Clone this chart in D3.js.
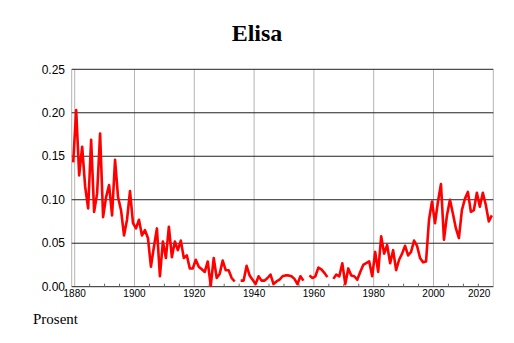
<!DOCTYPE html>
<html>
<head>
<meta charset="utf-8">
<script src="https://cdn.jsdelivr.net/npm/d3@7"></script>
<style>
  body { margin: 0; background: #fff; }
  svg { display: block; }
</style>
</head>
<body>
<div id="chart"></div>
<script>
// Share of name "Elisa", yearly (null = no data that year)
const firstYear = 1879;
const values = [
  0.143, 0.203, 0.128, 0.161, 0.115, 0.090, 0.169, 0.086, 0.107, 0.176, // 1879-1888
  0.080, 0.103, 0.117, 0.082, 0.146, 0.103, 0.088, 0.059, 0.077, 0.110, // 1889-1898
  0.073, 0.067, 0.077, 0.059, 0.065, 0.056, 0.023, 0.046, 0.067, 0.012, // 1899-1908
  0.052, 0.033, 0.069, 0.034, 0.052, 0.042, 0.053, 0.033, 0.036, 0.021, // 1909-1918
  0.021, 0.031, 0.023, 0.020, 0.017, 0.029, 0.001, 0.033, 0.010, 0.015, // 1919-1928
  0.030, 0.019, 0.019, 0.010, 0.006, null,  0.007, 0.007, 0.024, 0.013, // 1929-1938
  0.008, 0.003, 0.012, 0.007, 0.007, 0.010, 0.014, 0.003, 0.006, 0.008, // 1939-1948
  0.012, 0.013, 0.013, 0.012, 0.009, 0.003, 0.012, 0.007, null,  0.013, // 1949-1958
  0.010, 0.012, 0.022, 0.020, 0.016, 0.011, null,  0.009, 0.014, 0.012, // 1959-1968
  0.027, 0.003, 0.021, 0.013, 0.012, 0.008, 0.017, 0.025, 0.027, 0.029, // 1969-1978
  0.012, 0.040, 0.017, 0.058, 0.038, 0.048, 0.027, 0.042, 0.019, 0.031, // 1979-1988
  0.038, 0.047, 0.036, 0.040, 0.053, 0.047, 0.033, 0.028, 0.029, 0.077, // 1989-1998
  0.098, 0.073, 0.098, 0.118, 0.054, 0.082, 0.100, 0.084, 0.067, 0.056, // 1999-2008
  0.088, 0.101, 0.109, 0.086, 0.088, 0.108, 0.092, 0.108, 0.094, 0.075, // 2009-2018
  0.082                                                                 // 2019
];
const years = d3.range(firstYear, firstYear + values.length);

const yTicks = [0, 0.05, 0.10, 0.15, 0.20, 0.25];
const xTicks = [1880, 1900, 1920, 1940, 1960, 1980, 2000, 2020];
const minorTicks = d3.range(1880, 2020, 5);

const width = 514;
const height = 343;
const margin = { top: 69.3, right: 20.7, bottom: 56.3, left: 71.7 };

const svg = d3.select("#chart")
  .append("svg")
  .attr("width", width)
  .attr("height", height);

const x = d3.scaleLinear()
  .domain([1879, 2020])
  .range([margin.left, width - margin.right]);

const y = d3.scaleLinear()
  .domain([0, 0.25])
  .range([height - margin.bottom, margin.top]);

// title
svg.append("text")
  .attr("x", 257)
  .attr("y", 41)
  .attr("text-anchor", "middle")
  .style("font-family", "'Liberation Serif', 'Times New Roman', serif")
  .style("font-weight", "bold")
  .style("font-size", "24px")
  .text("Elisa");

// vertical grid (grey), including frame edges
const vLines = [1879].concat(xTicks);
svg.append("g")
  .selectAll("line")
  .data(vLines)
  .enter()
  .append("line")
  .attr("x1", d => x(d))
  .attr("x2", d => x(d))
  .attr("y1", y(0.25))
  .attr("y2", y(0))
  .attr("stroke", "#b4b4b4")
  .attr("stroke-width", 1);

// horizontal grid (black)
svg.append("g")
  .selectAll("line")
  .data(yTicks)
  .enter()
  .append("line")
  .attr("x1", x(1879))
  .attr("x2", x(2020))
  .attr("y1", d => y(d))
  .attr("y2", d => y(d))
  .attr("stroke", "#222")
  .attr("stroke-width", 1);

// minor ticks on x axis
svg.append("g")
  .selectAll("line")
  .data(minorTicks.filter(d => d % 20 !== 0))
  .enter()
  .append("line")
  .attr("x1", d => x(d))
  .attr("x2", d => x(d))
  .attr("y1", y(0))
  .attr("y2", y(0) - 3)
  .attr("stroke", "#666")
  .attr("stroke-width", 1);

// y labels
svg.append("g")
  .selectAll("text")
  .data(yTicks)
  .enter()
  .append("text")
  .attr("x", 65)
  .attr("y", d => y(d))
  .attr("dy", "0.35em")
  .attr("text-anchor", "end")
  .style("font-family", "'Liberation Sans', Arial, sans-serif")
  .style("font-size", "12px")
  .text(d => d3.format(".2f")(d));

// x labels
svg.append("g")
  .selectAll("text")
  .data(xTicks)
  .enter()
  .append("text")
  .attr("x", d => d === 2020 ? x(d) - 3 : x(d))
  .attr("y", 297)
  .attr("text-anchor", d => d === 2020 ? "end" : "middle")
  .style("font-family", "'Liberation Sans', Arial, sans-serif")
  .style("font-size", "10px")
  .text(d => d);

// unit label
svg.append("text")
  .attr("x", 33)
  .attr("y", 324)
  .style("font-family", "'Liberation Serif', 'Times New Roman', serif")
  .style("font-size", "15px")
  .text("Prosent");

// series line, points centred in each year
const line = d3.line()
  .defined(d => d.v !== null)
  .x(d => x(d.year + 0.5))
  .y(d => y(d.v));

const series = years.map((year, i) => ({ year, v: values[i] }));

svg.append("path")
  .datum(series)
  .attr("fill", "none")
  .attr("stroke", "#ff0000")
  .attr("stroke-width", 2.6)
  .attr("stroke-linejoin", "round")
  .attr("d", line);
</script>
</body>
</html>
